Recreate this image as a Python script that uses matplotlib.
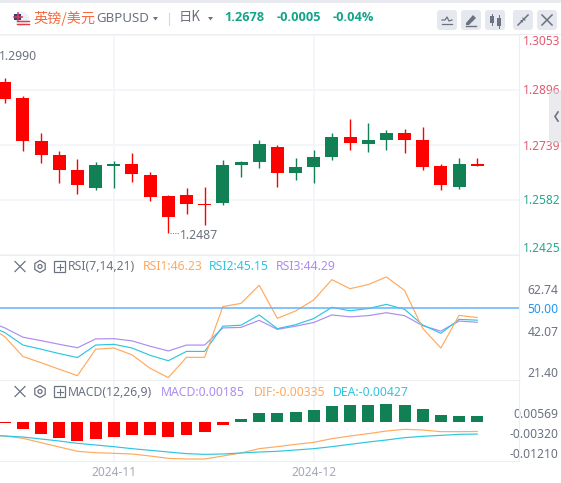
import matplotlib
matplotlib.use("Agg")
import matplotlib.pyplot as plt
from matplotlib.patches import Rectangle, FancyBboxPatch, Circle, RegularPolygon, Polygon

W, H = 561, 483
plt.rcParams['font.family'] = ['Noto Sans', 'Noto Sans CJK SC', 'DejaVu Sans']

# ---------- data ----------
opens  = [1.2917,1.2872,1.2749,1.2709,1.2666,1.2616,1.2679,1.2683,1.2652,1.2592,1.2595,1.2569,1.2573,1.2681,
          1.2690,1.2732,1.2659,1.2676,1.2704,1.2760,1.2741,1.2753,1.2772,1.2752,1.2678,1.2619,1.2683]
highs  = [1.2928,1.2878,1.2772,1.2720,1.2698,1.2689,1.2692,1.2715,1.2661,1.2595,1.2615,1.2618,1.2695,1.2692,
          1.2752,1.2738,1.2700,1.2723,1.2772,1.2812,1.2800,1.2780,1.2783,1.2789,1.2683,1.2700,1.2700]
lows   = [1.2858,1.2721,1.2687,1.2630,1.2599,1.2610,1.2616,1.2633,1.2579,1.2487,1.2542,1.2510,1.2567,1.2647,
          1.2673,1.2619,1.2639,1.2630,1.2696,1.2724,1.2719,1.2724,1.2716,1.2667,1.2610,1.2613,1.2678]
closes = [1.2870,1.2750,1.2710,1.2667,1.2622,1.2680,1.2683,1.2656,1.2590,1.2533,1.2570,1.2567,1.2680,1.2689,
          1.2740,1.2659,1.2675,1.2703,1.2760,1.2744,1.2752,1.2772,1.2753,1.2676,1.2622,1.2683,1.2678]

# line series start one session before the first candle
rsi1 = [43.2,38.4,30.3,27.8,25.1,22.5,33.3,33.8,31.0,25.5,21.7,30.0,30.0,50.7,52.0,59.4,45.9,48.9,53.4,61.7,
        58.0,59.7,62.8,57.3,41.8,33.8,47.1,46.23]
rsi2 = [43.2,40.1,35.0,33.3,31.5,29.9,35.0,35.3,33.8,30.8,28.6,32.4,32.4,42.7,43.1,47.3,41.7,43.3,45.8,50.4,
        49.0,49.9,51.6,49.6,43.2,39.8,45.5,45.15]
rsi3 = [45.0,42.0,38.2,36.8,35.3,33.9,37.5,37.6,36.7,34.5,32.6,35.0,35.0,42.0,42.2,45.1,41.4,42.7,44.2,47.3,
        46.5,47.0,48.2,47.0,42.9,40.7,44.8,44.29]

macd = [-.0002,-.0024,-.0041,-.0057,-.0067,-.0059,-.0052,-.0046,-.0045,-.0052,-.0045,-.0035,-.0011,.0011,
        .0032,.0032,.0035,.0042,.0057,.0060,.0060,.0064,.0060,.0046,.0025,.0021,.0021]
dif = [-.00470,-.00496,-.00578,-.00732,-.00885,-.01038,-.01086,-.01109,-.01133,-.01204,-.01286,-.01310,-.01310,-.01204,
       -.01097,-.00944,-.00873,-.00791,-.00720,-.00590,-.00496,-.00413,-.00319,-.00260,-.00283,-.00342,-.00342,-.00335]
dea = [-.00470,-.00496,-.00531,-.00602,-.00673,-.00755,-.00814,-.00873,-.00944,-.01003,-.01062,-.01121,-.01145,-.01133,
       -.01097,-.01062,-.01038,-.00991,-.00944,-.00873,-.00791,-.00708,-.00637,-.00555,-.00507,-.00472,-.00437,-.00427]

price_ticks = ['1.3053','1.2896','1.2739','1.2582','1.2425']
rsi_ticks = ['62.74','50.00','42.07','21.40']
macd_ticks = ['0.00569','-0.00320','-0.01210']
date_labels = ['2024-11','2024-12']
date_idx = [6, 17]

# ---------- style ----------
RED, GREEN = '#ff0000', '#118055'
ORANGE, CYAN, PURPLE = '#ffa95e', '#2dc6e0', '#ab8df0'
GRID, BORDER = '#f4f5f8', '#eceef2'
GRAY, LIGHT = '#6b7280', '#a3a8b3'
UP_TXT, DN_TXT = '#e25a70', '#25a98e'

fig = plt.figure(figsize=(W/100, H/100), dpi=100, facecolor='white')

def mk(top, bottom):
    ax = fig.add_axes([0, 1-bottom/H, 519/W, (bottom-top)/H])
    ax.set_xlim(-4.8/18.17, (519-4.8)/18.17)
    for s in ax.spines.values():
        s.set_visible(False)
    ax.spines['right'].set_visible(True)
    ax.spines['right'].set_color(BORDER)
    ax.spines['right'].set_linewidth(0.8)
    ax.yaxis.tick_right()
    ax.tick_params(axis='both', length=0)
    ax.set_xticks(date_idx)
    ax.set_xticklabels([])
    ax.grid(True, axis='x', color=GRID, lw=1.2)
    ax.set_axisbelow(True)
    return ax

# main panel
ax = mk(34, 254.5)
p_per_px = 0.0157/55.0
ax.set_ylim(1.2739-(254.5-144.5)*p_per_px, 1.2739+(144.5-34)*p_per_px)
ax.set_yticks([float(t) for t in price_ticks])
ax.set_yticklabels(price_ticks, fontsize=8.6)
ax.grid(True, axis='y', color=GRID, lw=1.2)
ax.tick_params(axis='y', pad=2.5)
for i, lab in enumerate(ax.get_yticklabels()):
    lab.set_color(UP_TXT if i < 3 else DN_TXT)
    lab.set_va('top' if i == 0 else ('bottom' if i == 4 else 'center_baseline'))
xs = list(range(len(opens)))
for i, o, h, l, c in zip(xs, opens, highs, lows, closes):
    col = RED if c < o else GREEN
    ax.vlines(i, l, h, color=col, lw=1.0, zorder=3)
    ax.bar(i, max(abs(o-c), 0.0002), bottom=min(o, c), width=0.715, color=col, lw=0, zorder=4)
ax.text(-0.33, 1.2990, '1.2990', fontsize=8.8, color=GRAY, va='center', ha='left')
ax.plot([9.1, 9.6], [1.2487, 1.2487], color=GRAY, lw=0.7, ls=(0, (1, 1.5)))
ax.text(9.62, 1.2480, '1.2487', fontsize=8.8, color=GRAY, va='center', ha='left')

# RSI panel
ax2 = mk(254.5, 380)
px_unit = 2.45
ax2.set_ylim(50-(380-308.3)/px_unit, 50+(308.3-254.5)/px_unit)
ax2.set_yticks([50+(308.3-y)/px_unit for y in (288.5, 308.3, 330.7, 371.7)])
ax2.set_yticklabels(rsi_ticks, fontsize=8.7, color=GRAY, ha='right')
ax2.tick_params(axis='y', pad=28.6)
ax2.get_yticklabels()[1].set_color('#2196f3')
xr = list(range(-1, 27))
ax2.plot(xr, rsi3, color=PURPLE, lw=0.85)
ax2.plot(xr, rsi2, color=CYAN, lw=0.85)
ax2.plot(xr, rsi1, color=ORANGE, lw=0.85)
ax2.axhline(50, color='#64b2fb', lw=1.1, zorder=5)
ax2.spines['top'].set_visible(True)
ax2.spines['top'].set_color(BORDER)

# MACD panel
ax3 = mk(380, 461)
val_px = 0.000118*3
ax3.set_ylim(-(461-422)*val_px, (422-380)*val_px)
ax3.set_yticks([(422-y)*val_px for y in (413.5, 433.5, 452.5)])
ax3.set_yticklabels(macd_ticks, fontsize=8.7, color=GRAY, ha='right')
ax3.tick_params(axis='y', pad=28.6)
ax3.bar(xs, macd, width=0.66, color=[GREEN if v > 0 else RED for v in macd], lw=0)
ax3.plot(xr, dif, color=ORANGE, lw=0.85)
ax3.plot(xr, dea, color=CYAN, lw=0.85)
ax3.spines['top'].set_visible(True)
ax3.spines['top'].set_color(BORDER)
ax3.spines['bottom'].set_visible(True)
ax3.spines['bottom'].set_color(BORDER)
ax3.set_xticklabels(date_labels, fontsize=8.6, color=LIGHT)
ax3.tick_params(axis='x', pad=3.5)

# overlay in pixel coordinates for the header and panel legends
ov = fig.add_axes([0, 0, 1, 1], facecolor='none', zorder=10)
ov.set_xlim(0, W); ov.set_ylim(H, 0); ov.axis('off')
ov.add_patch(Rectangle((0, 0), W, 3, color='#e8eaef', lw=0))
ov.plot([0, W], [34, 34], color=BORDER, lw=0.8)

# flag
ov.add_patch(Circle((22, 19), 7, color='#eef0f6', lw=0))
ov.add_patch(Rectangle((14.5, 14), 7, 6, color='#2a3f8f', lw=0))
ov.plot([14.5, 22], [17, 17], color='#e03a45', lw=1.2)
ov.plot([18, 18], [13, 20], color='#e03a45', lw=1.2)
for yy in (21, 23.5):
    ov.plot([17, 29], [yy, yy], color='#e03a45', lw=1.0)

def t(x, y, s, c=GRAY, fs=8.6, **k):
    ov.text(x, y, s, color=c, fontsize=fs, va='center', ha=k.pop('ha', 'left'), **k)

t(33.5, 18, '英镑/美元', '#f5693d', 10.2, family=['Noto Sans CJK SC', 'DejaVu Sans'])
t(96, 19, 'GBPUSD', GRAY, 9.6)
ov.add_patch(Polygon([[153, 17], [158, 17], [155.5, 20.5]], color=GRAY, lw=0))
ov.plot([169, 169], [13, 25], color='#d5d8de', lw=0.8)
t(179, 17.5, '日K', GRAY, 9.6, family=['Noto Sans CJK SC', 'DejaVu Sans'])
ov.add_patch(Polygon([[208, 17], [213, 17], [210.5, 20.5]], color=GRAY, lw=0))
for x, s in ((224, '1.2678'), (277, '-0.0005'), (333, '-0.04%')):
    t(x, 17.5, s, '#12a58a', 9.2, fontweight='bold', family=['Open Sans', 'DejaVu Sans'])

for bx in (437, 461, 485, 513, 537):
    ov.add_patch(FancyBboxPatch((bx+1.5, 11.5), 17, 17, boxstyle='round,pad=1.5,rounding_size=3',
                                fc='#e6e8ef', ec='none'))
# button glyphs
ov.plot([442, 445, 447, 449, 452], [20, 20, 17, 21, 20], color=GRAY, lw=0.9)
ov.plot([442, 452], [24, 24], color=GRAY, lw=0.9)
ov.add_patch(Polygon([[466, 23], [473, 15], [476, 18], [469, 25], [466, 25]], color=GRAY, lw=0))
ov.plot([466, 476], [26, 26], color=GRAY, lw=1)
ov.add_patch(Rectangle((490, 16), 4, 7, color=GRAY, lw=0))
ov.add_patch(Rectangle((497, 18), 4, 8, color=GRAY, lw=0))
ov.plot([492, 492], [14, 25], color=GRAY, lw=0.7)
ov.plot([499, 499], [15, 28], color=GRAY, lw=0.7)
ov.plot([518, 522], [25, 21], color=GRAY, lw=1.1)
ov.add_patch(Polygon([[520, 19.5], [523.5, 19.5], [523.5, 23]], color=GRAY, lw=0))
ov.plot([524, 528], [19, 15], color=GRAY, lw=1.1)
ov.add_patch(Polygon([[522.5, 17], [526, 20.5], [522.5, 20.5]], color=GRAY, lw=0))
ov.plot([542, 552], [15, 25], color=GRAY, lw=1.1)
ov.plot([542, 552], [25, 15], color=GRAY, lw=1.1)

# side handle (translucent, so the price label shows through)
ov.add_patch(Rectangle((549, 90), 12, 53, color='#d9dae3', alpha=0.55, lw=0))
ov.plot([558, 555, 558], [112, 116.5, 121], color=GRAY, lw=1.2)

def legend_row(y, name, items):
    ov.plot([15, 25], [y-5, y+5], color=GRAY, lw=0.9)
    ov.plot([15, 25], [y+5, y-5], color=GRAY, lw=0.9)
    ov.add_patch(RegularPolygon((40, y), 6, radius=6, fc='none', ec=GRAY, lw=0.9))
    ov.add_patch(Circle((40, y), 2, fc='none', ec=GRAY, lw=0.9))
    ov.add_patch(Rectangle((54.5, y-5.5), 11, 11, fc='none', ec=GRAY, lw=0.9))
    ov.plot([57, 63], [y, y], color=GRAY, lw=0.8)
    ov.plot([60, 60], [y-3, y+3], color=GRAY, lw=0.8)
    t(68, y+0.5, name, GRAY, 8.8)
    for x, s, c in items:
        t(x, y+0.5, s, c, 8.8)

legend_row(266.5, 'RSI(7,14,21)', [(142.5, 'RSI1:46.23', ORANGE), (209, 'RSI2:45.15', CYAN),
                                   (275.5, 'RSI3:44.29', PURPLE)])
legend_row(391.5, 'MACD(12,26,9)', [(161, 'MACD:0.00185', PURPLE), (254, 'DIF:-0.00335', ORANGE),
                                    (333, 'DEA:-0.00427', CYAN)])

fig.savefig('out.png', dpi=100, facecolor='white')
